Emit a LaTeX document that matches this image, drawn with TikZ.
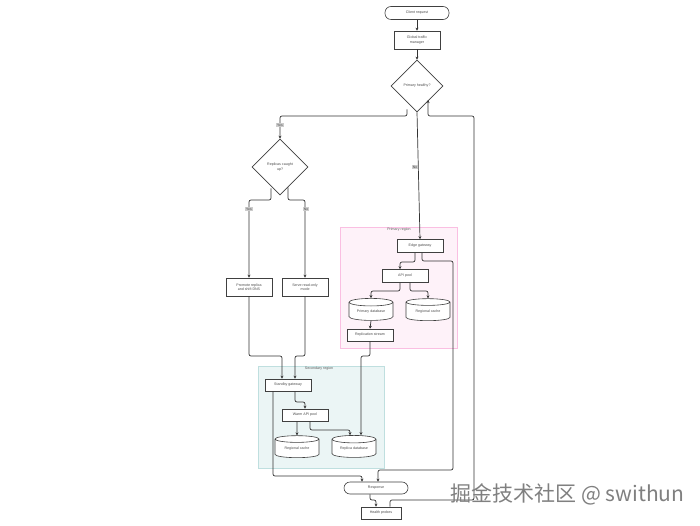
\documentclass[tikz,border=0pt]{standalone}
\usepackage{fontspec}
\setmainfont{Liberation Sans}
\newfontfamily\cjk{Noto Sans CJK SC}
\usetikzlibrary{shapes.geometric,arrows.meta}
\begin{document}
\begin{tikzpicture}[x=1pt,y=-1pt,
 box/.style={draw=black!75,fill=white,line width=0.6pt,minimum width=46pt,minimum height=13pt,font=\fontsize{3.6}{4.2}\selectfont\color{black!70},align=center,inner sep=1pt},
 term/.style={box,rounded corners=6pt},
 dia/.style={draw=black!75,fill=white,line width=0.6pt,diamond,minimum width=52pt,minimum height=52pt,font=\fontsize{3.6}{4.2}\selectfont\color{black!70},align=center,inner sep=0pt},
 cyl/.style={draw=black!75,fill=white,line width=0.6pt,cylinder,shape border rotate=90,aspect=0.25,minimum width=44pt,minimum height=22pt,font=\fontsize{3.6}{4.2}\selectfont\color{black!70},inner sep=1pt},
 ln/.style={draw=black!80,line width=0.7pt,rounded corners=2pt,-{Stealth[length=3pt,width=3pt]}},
 lab/.style={fill=black!20,font=\fontsize{3.4}{4}\selectfont\color{black!70},inner sep=1pt},
 reg/.style={font=\fontsize{3.6}{4.2}\selectfont\color{black!65}}]
\useasboundingbox (0,0) rectangle (700,526);
\fill[white] (0,0) rectangle (700,526);
% regions
\draw[fill=magenta!5,draw=magenta!25,line width=0.6pt] (340,227) rectangle (457,348);
\node[reg] (preg) at (399,229.5) {Primary region};
\draw[fill=teal!8,draw=teal!25,line width=0.6pt] (258,366) rectangle (384,468);
\node[reg] (sreg) at (319,368.5) {Secondary region};
% nodes
\node[term,minimum width=64pt] (client) at (417,13) {Client request};
\node[box,minimum height=18pt] (gtm) at (417,40) {Global traffic\\manager};
\node[dia] (ph) at (417,86) {Primary healthy?};
\node[dia,minimum width=56pt,minimum height=56pt] (rc) at (280,167) {Replicas caught\\up?};
\node[box,minimum height=18pt] (prom) at (249,287) {Promote replica\\and shift DNS};
\node[box,minimum height=18pt] (ro) at (305,287) {Serve read-only\\mode};
\node[box] (edge) at (420,246) {Edge gateway};
\node[box] (api) at (405,276) {API pool};
\node[cyl] (pdb) at (371,312) {Primary database};
\node[cyl] (pc) at (428,312) {Regional cache};
\node[box,minimum height=12pt] (rs) at (370,335) {Replication stream};
\node[box,minimum height=12pt] (sg) at (288,385) {Standby gateway};
\node[box,minimum height=12pt] (wap) at (305,415) {Warm API pool};
\node[cyl] (sc) at (297,449) {Regional cache};
\node[cyl] (rdb) at (354,449) {Replica database};
\node[term,minimum width=64pt,minimum height=12pt] (resp) at (376,488) {Response};
\node[box,minimum width=40pt,minimum height=12pt] (hp) at (381,513) {Health probes};
% edges
\draw[ln] (client) -- (gtm);
\draw[ln] (gtm) -- (ph);
\draw[ln] (ph.south) ++(-10,-3) |- (300,116) -| (rc.north);
\node[lab] (y1) at (280,125) {Yes};
\draw[ln] (ph.south) -- (edge.north);
\node[lab] (n1) at (415,167) {No};
\draw[ln] (rc.south) ++(-9,-7) |- (260,200) -| (prom.north);
\node[lab] (y2) at (249,209) {Yes};
\draw[ln] (rc.south) ++(8,-8) |- (295,200) -| (ro.north);
\node[lab] (n2) at (306,209) {No};
\draw[ln] (edge.south) ++(-5,0) |- (410,262) -| (api.north -| 400,0);
\draw[ln] (api.south) ++(-5,0) |- (380,291) -| (pdb.north);
\draw[ln] (api.south) ++(5,0) |- (420,291) -| (pc.north);
\draw[ln] (pdb.south) -- (rs.north);
\draw[ln] (rs.south) |- (365,356) -| (rdb.north -| 361,0);
\draw[ln] (prom.south) |- (270,356) -| (sg.north -| 282,0);
\draw[ln] (ro.south) |- (300,356) -| (sg.north -| 295,0);
\draw[ln] (sg.south) ++(7,0) |- (300,402) -| (wap.north);
\draw[ln] (wap.south) ++(-8,0) -- (sc.north);
\draw[ln] (wap.south) ++(5,0) |- (340,430) -| (rdb.north -| 350,0);
\draw[ln] (sg.south) ++(-15,0) |- (300,476) -| (resp.north -| 362,0);
\draw[ln] (edge.south) ++(2,0) |- (453,261) |- (400,470) -| (resp.north -| 378,0);
\draw[ln] (resp.south) ++(-6,0) |- (376,500) -- (hp.north -| 376,0);
\draw[ln] (hp.north) ++(9,0) |- (474,500) |- (428,116) -- (428,100);
% watermark
\node[font=\cjk\fontsize{21}{23}\selectfont,text=black!50,anchor=east] (wm) at (688,494) {掘金技术社区 @ swithun};
\end{tikzpicture}
\end{document}
